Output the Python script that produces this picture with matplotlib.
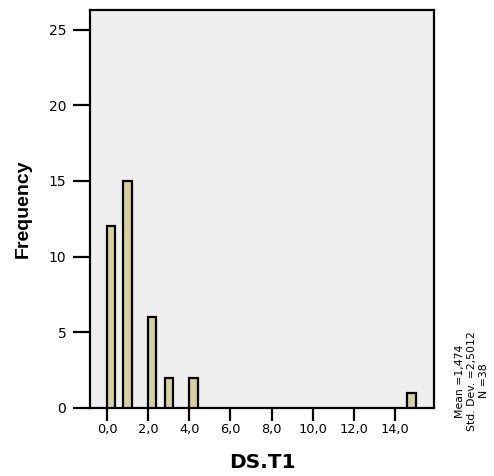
import matplotlib
matplotlib.use("Agg")
import matplotlib.pyplot as plt

# histogram bins (left edge, count)
bin_left = [0.0, 0.8, 2.0, 2.8, 4.0, 14.6]
counts = [12, 15, 6, 2, 2, 1]
bin_width = 0.4

x_ticks = [0, 2, 4, 6, 8, 10, 12, 14]
x_tick_labels = ["0,0", "2,0", "4,0", "6,0", "8,0", "10,0", "12,0", "14,0"]
y_ticks = [0, 5, 10, 15, 20, 25]

stats_text = "Mean =1,474\nStd. Dev. =2,5012\nN =38"

fig = plt.figure(figsize=(4.94, 4.76), dpi=100)
ax = fig.add_axes([0.182, 0.143, 0.697, 0.836])
ax.set_facecolor("#efefef")

ax.bar(bin_left, counts, width=bin_width, align="edge",
       color="#d6d09e", edgecolor="black", linewidth=1.6, zorder=3)

ax.set_xlim(-0.83, 15.9)
ax.set_ylim(0, 26.3)
ax.set_xticks(x_ticks)
ax.set_xticklabels(x_tick_labels)
ax.set_yticks(y_ticks)

for side in ["left", "bottom", "top", "right"]:
    ax.spines[side].set_linewidth(1.6)

ax.tick_params(axis="y", length=12, width=1.6, pad=5, labelsize=10)
ax.tick_params(axis="x", length=9, width=1.6, pad=2, labelsize=9.3)
for lab in ax.get_xticklabels() + ax.get_yticklabels():
    lab.set_family("DejaVu Sans")

ax.set_ylabel("Frequency", fontsize=14, fontweight="bold", family="Liberation Sans")
ax.yaxis.set_label_coords(-0.195, 0.5)
ax.yaxis.label.set_va("center")

ax.set_xlabel("DS.T1", fontsize=14.5, fontweight="bold", family="DejaVu Sans")
ax.xaxis.set_label_coords(0.5, -0.137)
ax.xaxis.label.set_va("center")

fig.text(472 / 494, 1 - 381 / 476, stats_text, rotation=90, ha="center", va="center",
         multialignment="center", fontsize=7.8, family="Liberation Sans Narrow",
         linespacing=1.3)

fig.savefig("out.png", dpi=100)
